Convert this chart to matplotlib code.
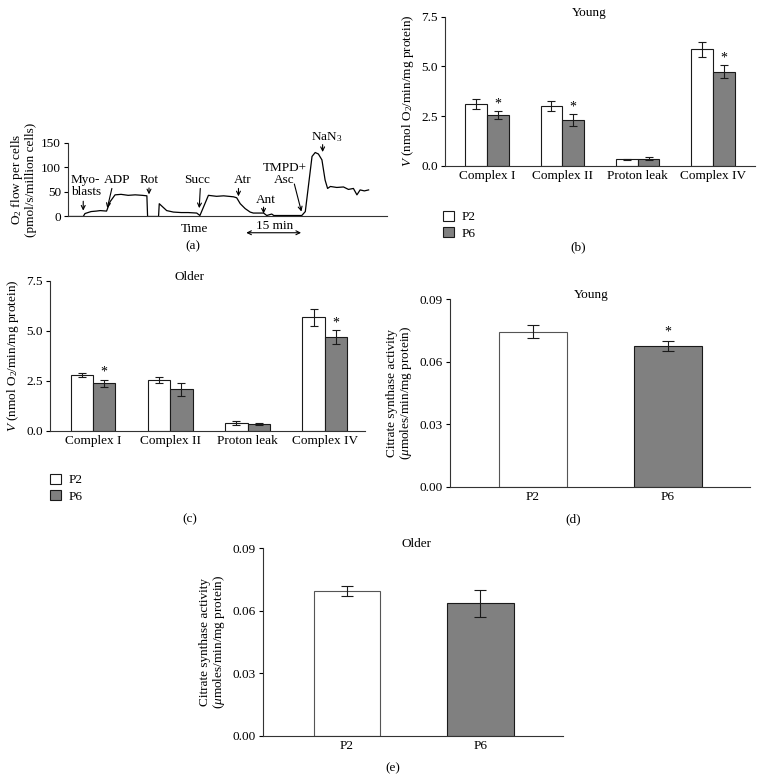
import matplotlib
matplotlib.use("Agg")
import matplotlib.pyplot as plt
from matplotlib.patches import Patch
import numpy as np

plt.rcParams['font.family'] = ['Liberation Serif', 'DejaVu Serif']
plt.rcParams['mathtext.fontset'] = 'custom'
plt.rcParams['mathtext.rm'] = 'Liberation Serif'
plt.rcParams['mathtext.it'] = 'Liberation Serif:italic'
plt.rcParams['font.size'] = 9.5

# ---- data ----
# (a) oxygen flow trace, time in min
trace_t = [0, 4.3, 4.8, 6.5, 8.0, 9.1, 10.9, 11.9, 13.3, 15, 17, 19, 21, 22.3, 22.5,
           25.6, 25.8, 27.9, 29.8, 32, 34, 36.4, 37.3, 38.3, 39.7, 42, 44, 46.8, 47.7,
           48.7, 50.1, 51.5, 52.4, 55.3, 56.2, 57.6, 58.2, 62, 66.1, 67.1, 69.0, 69.9,
           70.8, 71.8, 72.7, 73.4, 74.2, 76.0, 77.9, 79.3, 80.7, 81.7, 82.6, 83.8, 85.0]
trace_v = [0, 0, 6, 10, 11, 12, 11, 30, 44, 45, 43, 44, 43, 42, 0,
           0, 26, 12, 9, 8, 8, 7, 2, 19, 43, 41, 42, 40, 38,
           26, 16, 9, 7, 7, 2, 5, 2, 2, 2, 10, 122, 130,
           127, 115, 74, 57, 61, 59, 60, 55, 57, 44, 54, 52, 54]

complexes = ["Complex I", "Complex II", "Proton leak", "Complex IV"]
young_p2 = [3.10, 3.00, 0.33, 5.87]
young_p2_err = [0.27, 0.27, 0.03, 0.38]
young_p6 = [2.55, 2.30, 0.35, 4.73]
young_p6_err = [0.19, 0.29, 0.08, 0.32]
young_star = [True, True, False, True]

older_p2 = [2.79, 2.54, 0.37, 5.67]
older_p2_err = [0.08, 0.14, 0.10, 0.42]
older_p6 = [2.37, 2.07, 0.33, 4.68]
older_p6_err = [0.18, 0.32, 0.03, 0.36]
older_star = [True, False, False, True]

passages = ["P2", "P6"]
cs_young = [0.0743, 0.0675]
cs_young_err = [0.0032, 0.0026]
cs_young_star = [False, True]
cs_older = [0.0695, 0.0636]
cs_older_err = [0.0023, 0.0066]
cs_older_star = [False, False]

GRAY = "#808080"
EDGE = "#1a1a1a"

fig = plt.figure(figsize=(7.6, 7.83), dpi=100)


def style_axes(ax):
    for s in ["top", "right"]:
        ax.spines[s].set_visible(False)
    for s in ["left", "bottom"]:
        ax.spines[s].set_linewidth(0.8)
        ax.spines[s].set_color("#333333")
    ax.tick_params(axis="y", direction="out", length=3, width=0.8, pad=2)
    ax.tick_params(axis="x", length=0, pad=3)


# ---- (a) ----
ax = fig.add_axes([0.0895, 0.7235, 0.4197, 0.0943])
ax.plot(trace_t, trace_v, color="black", lw=0.9)
ax.set_xlim(0, 90.2)
ax.set_ylim(0, 150)
ax.set_yticks([0, 50, 100, 150])
ax.set_xticks([])
style_axes(ax)
ax.set_ylabel("O$_2$ flow per cells\n(pmol/s/million cells)", labelpad=3, linespacing=1.0)
ax.text(35.9, -25, "Time", ha="center", va="center")

arr = dict(arrowstyle="->", color="black", lw=0.8, shrinkA=0, shrinkB=0,
           mutation_scale=7)
notes = [
    # text, text x, text y, ha, arrow start, arrow end
    ("Myo-\nblasts", 0.85, 38, "left", (4.3, 31), (4.3, 12)),
    ("ADP", 13.8, 61, "center", (12.4, 57), (11.1, 17)),
    ("Rot", 22.9, 61, "center", (22.9, 58), (22.9, 45)),
    ("Succ", 36.4, 61, "center", (37.4, 57), (37.1, 17)),
    ("Atr", 49.3, 61, "center", (48.2, 57), (48.2, 41)),
    ("Ant", 55.9, 22, "center", (55.3, 19), (55.3, 6)),
    ("TMPD+\nAsc", 61.2, 62, "center", (64.0, 66), (66.0, 10)),
    ("NaN$_3$", 73.2, 148, "center", (72.0, 146), (72.0, 131)),
]
for txt, tx, ty, ha, a0, a1 in notes:
    ax.text(tx, ty, txt, ha=ha, va="bottom", linespacing=1.0)
    ax.annotate("", xy=a1, xytext=a0, arrowprops=arr, annotation_clip=False)
ax.annotate("", xy=(65.9, -33), xytext=(50.4, -33),
            arrowprops=dict(arrowstyle="<->", color="black", lw=0.8,
                            shrinkA=0, shrinkB=0, mutation_scale=7),
            annotation_clip=False)
ax.text(58.3, -24.5, "15 min", ha="center", va="baseline")


def complex_panel(rect, p2, p2e, p6, p6e, stars, title, tx, xlim):
    ax = fig.add_axes(rect)
    x = np.arange(len(complexes))
    w = 0.29
    ekw = dict(ecolor=EDGE, elinewidth=0.8, capsize=2.8, capthick=0.8)
    ax.bar(x - w / 2, p2, w, yerr=p2e, color="white", edgecolor=EDGE,
           linewidth=0.8, error_kw=ekw)
    ax.bar(x + w / 2, p6, w, yerr=p6e, color=GRAY, edgecolor=EDGE,
           linewidth=0.8, error_kw=ekw)
    for i, s in enumerate(stars):
        if s:
            ax.text(x[i] + w / 2, p6[i] + p6e[i] + 0.05, "*", ha="center",
                    va="bottom", fontsize=10)
    ax.set_xlim(*xlim)
    ax.set_ylim(0, 7.5)
    ax.set_yticks([0, 2.5, 5.0, 7.5])
    ax.set_yticklabels(["0.0", "2.5", "5.0", "7.5"])
    ax.set_xticks(x)
    ax.set_xticklabels(complexes)
    style_axes(ax)
    ax.set_ylabel("$V$ (nmol O$_2$/min/mg protein)", labelpad=4)
    ax.text(tx, 1.024, title, transform=ax.transAxes, ha="center", va="center")
    return ax


# ---- (b) ----
axb = complex_panel([0.5855, 0.7884, 0.408, 0.1903], young_p2, young_p2_err,
                    young_p6, young_p6_err, young_star, "Young", 0.465,
                    (-0.56, 3.56))
# ---- (c) ----
axc = complex_panel([0.0658, 0.450, 0.4145, 0.1912], older_p2, older_p2_err,
                    older_p6, older_p6_err, older_star, "Older", 0.444,
                    (-0.556, 3.52))

handles = [Patch(facecolor="white", edgecolor=EDGE, linewidth=0.8, label="P2"),
           Patch(facecolor=GRAY, edgecolor=EDGE, linewidth=0.8, label="P6")]
for lx, ly in [(0.583, 0.731), (0.066, 0.395)]:
    fig.legend(handles=handles, loc="upper left", bbox_to_anchor=(lx, ly),
               frameon=False, handlelength=0.8, handleheight=0.8,
               handletextpad=0.6, labelspacing=0.3, borderaxespad=0,
               borderpad=0)


def cs_panel(rect, vals, errs, stars, title, tx, xlim):
    ax = fig.add_axes(rect)
    x = np.arange(len(passages))
    ekw = dict(ecolor=EDGE, elinewidth=0.8, capsize=4, capthick=0.8)
    ax.bar(x, vals, 0.5, yerr=errs, color=["white", GRAY],
           edgecolor=["#555555", EDGE], linewidth=0.8, error_kw=ekw)
    for i, s in enumerate(stars):
        if s:
            ax.text(x[i], vals[i] + errs[i] + 0.0008, "*", ha="center",
                    va="bottom", fontsize=10)
    ax.set_xlim(*xlim)
    ax.set_ylim(0, 0.09)
    ax.set_yticks([0, 0.03, 0.06, 0.09])
    ax.set_yticklabels(["0.00", "0.03", "0.06", "0.09"])
    ax.set_xticks(x)
    ax.set_xticklabels(passages)
    style_axes(ax)
    ax.set_ylabel("Citrate synthase activity\n($\\mu$moles/min/mg protein)",
                  labelpad=4, linespacing=1.05)
    ax.text(tx, 1.022, title, transform=ax.transAxes, ha="center", va="center")
    return ax


# ---- (d) ----
cs_panel([0.592, 0.3784, 0.3947, 0.2397], cs_young, cs_young_err,
         cs_young_star, "Young", 0.47, (-0.615, 1.607))
# ---- (e) ----
cs_panel([0.346, 0.0604, 0.3947, 0.2393], cs_older, cs_older_err,
         cs_older_star, "Older", 0.513, (-0.629, 1.618))

# panel letters
for lab, px, py in [("(a)", 193, 246), ("(b)", 578, 247), ("(c)", 190, 519),
                    ("(d)", 573, 519), ("(e)", 393, 768)]:
    fig.text(px / 760, 1 - py / 783, lab, ha="center", va="center")

fig.savefig("out.png", dpi=100)
